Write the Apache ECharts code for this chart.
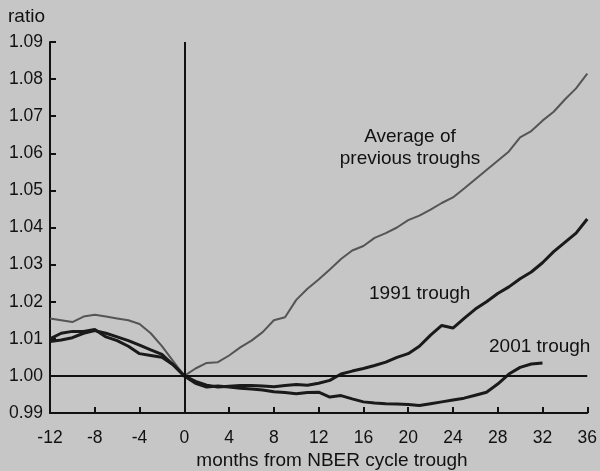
<!DOCTYPE html>
<html>
<head>
<meta charset="utf-8">
<script src="https://cdn.jsdelivr.net/npm/echarts@6/dist/echarts.min.js"></script>
<style>
  html, body { margin: 0; padding: 0; background: #c6c6c6; }
  #chart { width: 600px; height: 471px; }
</style>
</head>
<body>
<div id="chart"></div>
<script>
// months relative to NBER cycle trough
const monthsFull = [];
for (let m = -12; m <= 36; m++) monthsFull.push(m);

const avgPrevious = [
  1.0155, 1.015, 1.0145, 1.016, 1.0165, 1.016, 1.0155, 1.015, 1.014, 1.0115, 1.008, 1.004,
  1.000, 1.002, 1.0035, 1.0037, 1.0055, 1.0077, 1.0095, 1.0118, 1.015, 1.0158, 1.0205, 1.0235,
  1.026, 1.0287, 1.0315, 1.0338, 1.035, 1.0372, 1.0385, 1.040, 1.042, 1.0432, 1.0448, 1.0466,
  1.0481, 1.0505, 1.053, 1.0555, 1.058, 1.0605, 1.0643, 1.066, 1.0688, 1.0712, 1.0745, 1.0775,
  1.0815
];

const trough1991 = [
  1.010, 1.0115, 1.012, 1.012, 1.0125, 1.0105, 1.0095, 1.008, 1.006, 1.0055, 1.005, 1.003,
  1.000, 0.9985, 0.9975, 0.997, 0.9972, 0.9974, 0.9974, 0.9973, 0.9971, 0.9974, 0.9977, 0.9975,
  0.998, 0.9988, 1.0005, 1.0013, 1.002, 1.0028, 1.0037, 1.005, 1.006, 1.008, 1.011, 1.0136,
  1.0129, 1.0155, 1.018, 1.020, 1.0222, 1.024, 1.0262, 1.028, 1.0305, 1.0335, 1.036, 1.0385,
  1.0423
];

const trough2001 = [
  1.0093, 1.0097, 1.0103, 1.0115, 1.0122, 1.0115, 1.0105, 1.0095, 1.0083, 1.007, 1.0058, 1.003,
  1.000, 0.998, 0.997, 0.9973, 0.997, 0.9967, 0.9965, 0.9962, 0.9957, 0.9955, 0.9952, 0.9955,
  0.9956, 0.9943, 0.9947, 0.9938, 0.993, 0.9927, 0.9925, 0.9924, 0.9923, 0.992, 0.9925, 0.993,
  0.9935, 0.994, 0.9948, 0.9956, 0.9978, 1.0005, 1.0023, 1.0032, 1.0035
];

const xTicks = [-12, 36, 4];       // min, max, step
const yTicks = [0.99, 1.09, 0.01]; // min, max, step

const pairs = (vals) => vals.map((v, i) => [monthsFull[i], v]);

const chart = echarts.init(document.getElementById('chart'));
const font = 'Liberation Sans, Arial, Helvetica, sans-serif';
const ink = '#111';

const note = (text, x, y, align) => ({
  type: 'text', x: x, y: y,
  style: {
    text: text, fontSize: 19, lineHeight: 23, fontFamily: font, fill: ink,
    align: align || 'left', verticalAlign: 'middle'
  }
});

chart.setOption({
  backgroundColor: '#c6c6c6',
  animation: false,
  grid: { left: 50, right: 12, top: 42, bottom: 58 },
  xAxis: {
    type: 'value',
    min: xTicks[0],
    max: xTicks[1],
    interval: xTicks[2],
    splitLine: { show: false },
    axisLine: { onZero: false, lineStyle: { color: ink, width: 2 } },
    axisTick: { inside: true, length: 6, lineStyle: { color: ink, width: 2 } },
    axisLabel: { color: ink, fontSize: 17.5, fontFamily: font, margin: 16 }
  },
  yAxis: {
    type: 'value',
    min: yTicks[0],
    max: yTicks[1],
    interval: yTicks[2],
    splitLine: { show: false },
    axisLine: { onZero: false, lineStyle: { color: ink, width: 2 } },
    axisTick: { inside: true, length: 6, lineStyle: { color: ink, width: 2 } },
    axisLabel: {
      color: ink, fontSize: 17.5, fontFamily: font, margin: 7,
      formatter: (v) => v.toFixed(2)
    }
  },
  series: [
    {
      name: 'Average of previous troughs',
      type: 'line',
      data: pairs(avgPrevious),
      symbol: 'none',
      lineStyle: { color: '#555', width: 2 },
      z: 3
    },
    {
      name: '1991 trough',
      type: 'line',
      data: pairs(trough1991),
      symbol: 'none',
      lineStyle: { color: '#1a1a1a', width: 3 },
      z: 4
    },
    {
      name: '2001 trough',
      type: 'line',
      data: pairs(trough2001),
      symbol: 'none',
      lineStyle: { color: '#1a1a1a', width: 3 },
      z: 4,
      markLine: {
        silent: true,
        symbol: 'none',
        label: { show: false },
        lineStyle: { color: ink, width: 2, type: 'solid' },
        data: [{ xAxis: 0 }, { yAxis: 1.0 }]
      }
    }
  ],
  graphic: [
    note('ratio', 8, 17),
    note('months from NBER cycle trough', 332, 461, 'center'),
    note('Average of', 410, 137, 'center'),
    note('previous troughs', 410, 159, 'center'),
    note('1991 trough', 369, 294),
    note('2001 trough', 489, 347)
  ]
});
</script>
</body>
</html>
